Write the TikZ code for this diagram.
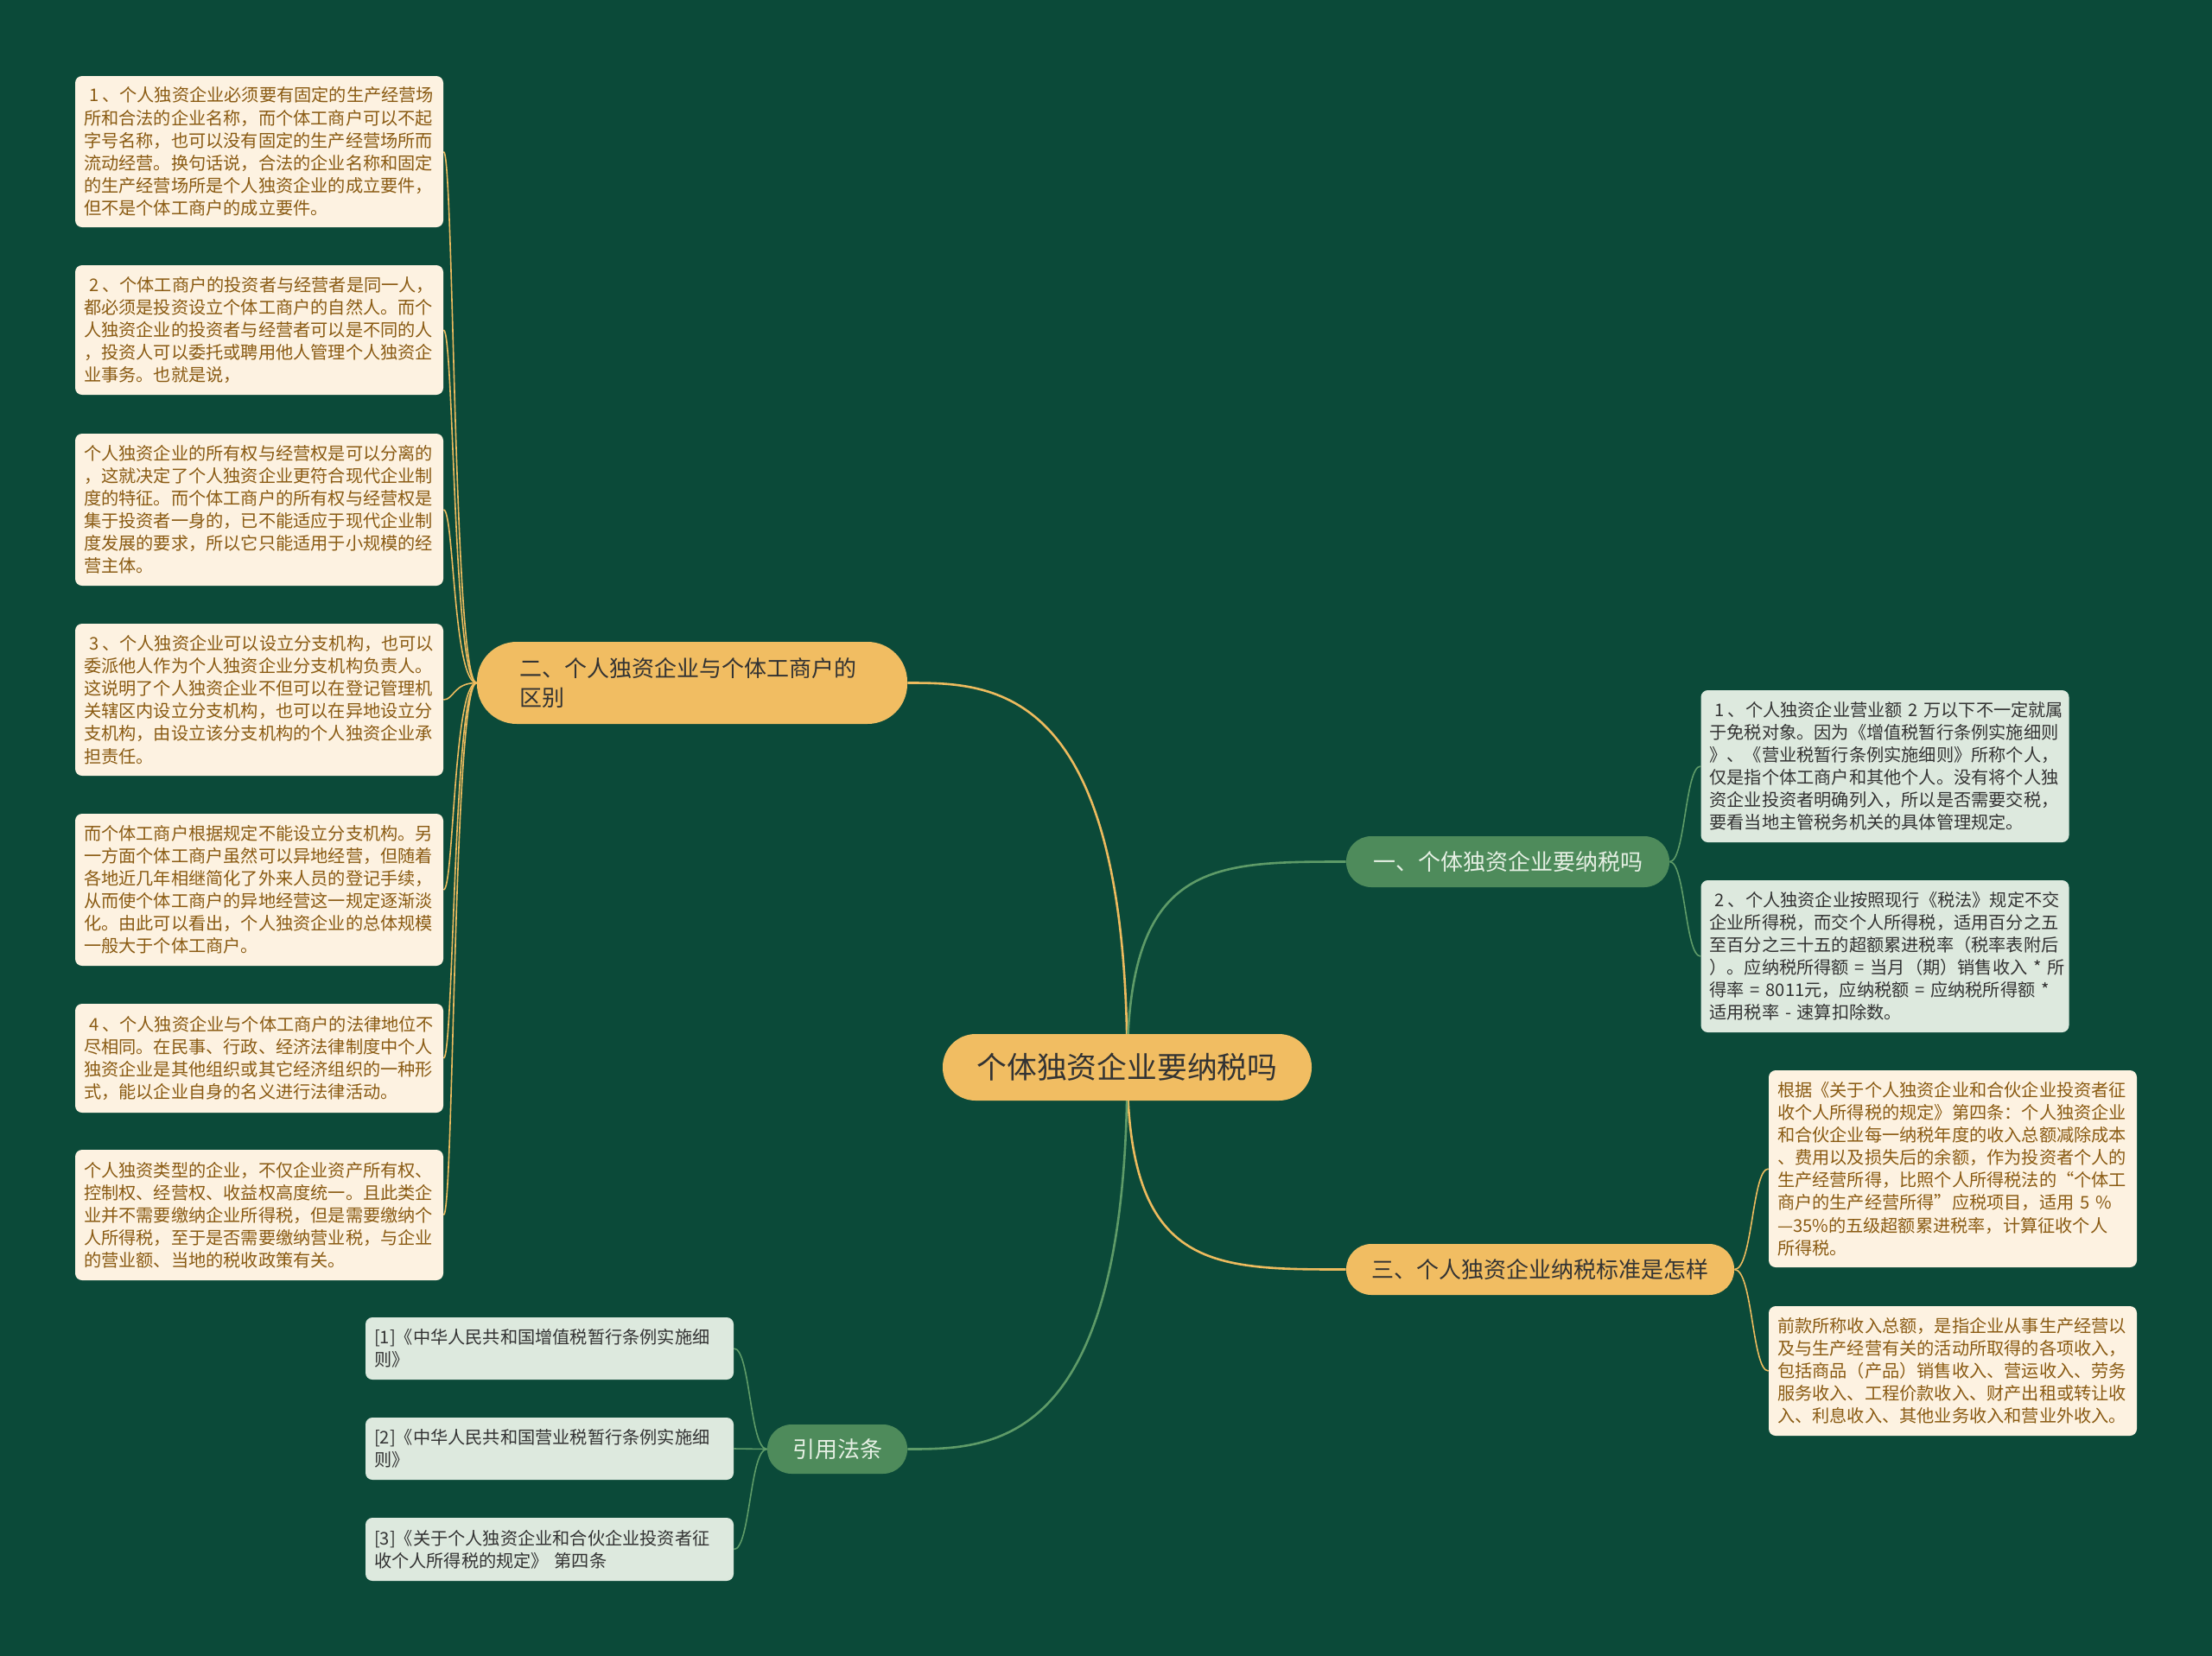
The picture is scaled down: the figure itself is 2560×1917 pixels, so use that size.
\documentclass[tikz,border=0pt]{standalone}
\usepackage{fontspec}
\setmainfont{Noto Sans CJK SC}
\usetikzlibrary{backgrounds,calc}
\definecolor{bgc}{HTML}{0B4A39}
\definecolor{orn}{HTML}{F1BD62}
\definecolor{gnode}{HTML}{4E8B5B}
\definecolor{gline}{HTML}{5E9B68}
\definecolor{oline}{HTML}{EDBB5E}
\definecolor{cream}{HTML}{FDF2E1}
\definecolor{lgreen}{HTML}{DDE9DE}
\definecolor{brownt}{HTML}{8A5B13}
\definecolor{darkt}{HTML}{333333}
\definecolor{lightt}{HTML}{E6F0E4}
\tikzset{
  leafbase/.style={rounded corners=4pt, inner xsep=5pt, inner ysep=0pt,
    minimum width=213pt, text width=203pt, align=left,
    font=\fontsize{10.1}{13.05}\selectfont},
  leafc/.style={leafbase, fill=cream, text=brownt},
  leafg/.style={leafbase, fill=lgreen, text=darkt},
  opill/.style={fill=orn, text=darkt, inner sep=0pt, font=\fontsize{13}{17}\selectfont},
  gpill/.style={fill=gnode, text=lightt, inner sep=0pt, font=\fontsize{13}{17}\selectfont},
  mainO/.style={draw=oline, line width=1.3pt},
  mainG/.style={draw=gline, line width=1.3pt},
  subO/.style={draw=oline, line width=0.8pt},
  subG/.style={draw=gline, line width=0.8pt}
}
\newcommand{\numlead}[1]{\mbox{\kern0.3em#1\kern0.2em}}
\begin{document}
\begin{tikzpicture}[x=0.5pt,y=-0.5pt]
\useasboundingbox (0,0) rectangle (2560,1917);

% central
\node[opill, minimum width=213.5pt, minimum height=38.5pt, rounded corners=19pt,
  font=\fontsize{17.4}{20}\selectfont] (c) at (1304.5,1235.5) {个体独资企业要纳税吗};

% branches
\node[opill, minimum width=249pt, minimum height=47.5pt, rounded corners=23pt,
  text width=200pt, align=left] (b2) at (801,790.5) {二、个人独资企业与个体工商户的\\区别};
\node[gpill, minimum width=187pt, minimum height=29.5pt, rounded corners=14.5pt] (b1) at (1745,997.5) {一、个体独资企业要纳税吗};
\node[opill, minimum width=224.5pt, minimum height=29.5pt, rounded corners=14.5pt] (b3) at (1782.5,1469.5) {三、个人独资企业纳税标准是怎样};
\node[gpill, minimum width=81pt, minimum height=28.5pt, rounded corners=14pt] (b4) at (969,1677.5) {引用法条};

% left leaves
\node[leafc, minimum height=87.5pt] (l1) at (300,175.5) {\numlead{1}、个人独资企业必须要有固定的生产经营场\\所和合法的企业名称，而个体工商户可以不起\\字号名称，也可以没有固定的生产经营场所而\\流动经营。换句话说，合法的企业名称和固定\\的生产经营场所是个人独资企业的成立要件，\\但不是个体工商户的成立要件。};
\node[leafc, minimum height=75pt] (l2) at (300,382) {\numlead{2}、个体工商户的投资者与经营者是同一人，\\都必须是投资设立个体工商户的自然人。而个\\人独资企业的投资者与经营者可以是不同的人\\，投资人可以委托或聘用他人管理个人独资企\\业事务。也就是说，};
\node[leafc, minimum height=88pt] (l3) at (300,590) {个人独资企业的所有权与经营权是可以分离的\\，这就决定了个人独资企业更符合现代企业制\\度的特征。而个体工商户的所有权与经营权是\\集于投资者一身的，已不能适应于现代企业制\\度发展的要求，所以它只能适用于小规模的经\\营主体。};
\node[leafc, minimum height=88pt] (l4) at (300,810) {\numlead{3}、个人独资企业可以设立分支机构，也可以\\委派他人作为个人独资企业分支机构负责人。\\这说明了个人独资企业不但可以在登记管理机\\关辖区内设立分支机构，也可以在异地设立分\\支机构，由设立该分支机构的个人独资企业承\\担责任。};
\node[leafc, minimum height=88pt] (l5) at (300,1030) {而个体工商户根据规定不能设立分支机构。另\\一方面个体工商户虽然可以异地经营，但随着\\各地近几年相继简化了外来人员的登记手续，\\从而使个体工商户的异地经营这一规定逐渐淡\\化。由此可以看出，个人独资企业的总体规模\\一般大于个体工商户。};
\node[leafc, minimum height=63pt] (l6) at (300,1225) {\numlead{4}、个人独资企业与个体工商户的法律地位不\\尽相同。在民事、行政、经济法律制度中个人\\独资企业是其他组织或其它经济组织的一种形\\式，能以企业自身的名义进行法律活动。};
\node[leafc, minimum height=75.5pt] (l7) at (300,1406.5) {个人独资类型的企业，不仅企业资产所有权、\\控制权、经营权、收益权高度统一。且此类企\\业并不需要缴纳企业所得税，但是需要缴纳个\\人所得税，至于是否需要缴纳营业税，与企业\\的营业额、当地的税收政策有关。};

% right leaves
\node[leafg, minimum height=88pt] (r1) at (2181.5,887) {\mbox{\numlead{1}、个人独资企业营业额~2~万以下不一定就属}\\于免税对象。因为《增值税暂行条例实施细则\\》、《营业税暂行条例实施细则》所称个人，\\仅是指个体工商户和其他个人。没有将个人独\\资企业投资者明确列入，所以是否需要交税，\\要看当地主管税务机关的具体管理规定。};
\node[leafg, minimum height=88pt] (r2) at (2181.5,1107) {\numlead{2}、个人独资企业按照现行《税法》规定不交\\企业所得税，而交个人所得税，适用百分之五\\至百分之三十五的超额累进税率（税率表附后\\\mbox{）。应纳税所得额 = 当月（期）销售收入 * 所}\\\mbox{得率 = 8011元，应纳税额 = 应纳税所得额 *}\\适用税率~-~速算扣除数。};
\node[leafc, minimum height=114pt] (r3) at (2260,1353) {根据《关于个人独资企业和合伙企业投资者征\\收个人所得税的规定》第四条：个人独资企业\\和合伙企业每一纳税年度的收入总额减除成本\\、费用以及损失后的余额，作为投资者个人的\\生产经营所得，比照个人所得税法的“个体工\\商户的生产经营所得”应税项目，适用~5~\%\\—35\%的五级超额累进税率，计算征收个人\\所得税。};
\node[leafc, minimum height=75pt] (r4) at (2260,1587) {前款所称收入总额，是指企业从事生产经营以\\及与生产经营有关的活动所取得的各项收入，\\包括商品（产品）销售收入、营运收入、劳务\\服务收入、工程价款收入、财产出租或转让收\\入、利息收入、其他业务收入和营业外收入。};

% references
\node[leafg, minimum height=36pt] (f1) at (636,1561) {[1]《中华人民共和国增值税暂行条例实施细\\则》};
\node[leafg, minimum height=36pt] (f2) at (636,1677) {[2]《中华人民共和国营业税暂行条例实施细\\则》};
\node[leafg, minimum height=36.5pt] (f3) at (636,1793.5) {[3]《关于个人独资企业和合伙企业投资者征\\收个人所得税的规定》~第四条};

\begin{scope}[on background layer]
\fill[bgc] (0,0) rectangle (2560,1917);
\draw[mainO] (c.center) .. controls (1305,790.5) and (1150,790.5) .. (b2.east);
\draw[mainG] (c.center) .. controls (1305,997.5) and (1400,997.5) .. (b1.west);
\draw[mainO] (c.center) .. controls (1305,1469.5) and (1400,1469.5) .. (b3.west);
\draw[mainG] (c.center) .. controls (1305,1677.5) and (1150,1677.5) .. (b4.east);
\foreach \n in {l1,l2,l3,l4,l5,l6,l7}
  \draw[subO] (b2.west) .. controls ($(b2.west)+(-27,0)$) and ($(\n.east)+(12,0)$) .. (\n.east);
\foreach \n in {r1,r2}
  \draw[subG] (b1.east) .. controls ($(b1.east)+(18,0)$) and ($(\n.west)+(-18,0)$) .. (\n.west);
\foreach \n in {r3,r4}
  \draw[subO] (b3.east) .. controls ($(b3.east)+(21,0)$) and ($(\n.west)+(-19,0)$) .. (\n.west);
\foreach \n in {f1,f2,f3}
  \draw[subG] (b4.west) .. controls ($(b4.west)+(-20,0)$) and ($(\n.east)+(19,0)$) .. (\n.east);
\end{scope}
\end{tikzpicture}
\end{document}
